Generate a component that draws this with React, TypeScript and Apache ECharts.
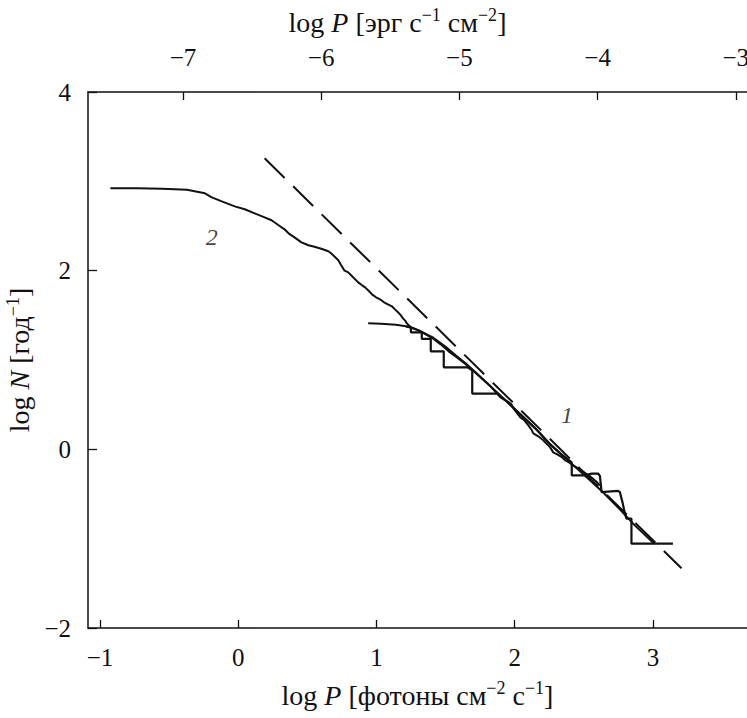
import React, { useEffect, useRef } from "react";
import * as echarts from "echarts";

// bottom axis: log P [photons cm^-2 s^-1]
const xTicks = [-1, 0, 1, 2, 3];
// top axis: log P [erg s^-1 cm^-2]
const topTicks = [-7, -6, -5, -4, -3];
const yTicks = [-2, 0, 2, 4];

// curve 2 (jagged)
const curve2X = [-0.925, -0.731, -0.551, -0.371, -0.241, -0.191, -0.119, -0.025, 0.047, 0.119, 0.191, 0.241, 0.292, 0.335, 0.364, 0.407, 0.457, 0.508, 0.551, 0.601, 0.652, 0.68, 0.724, 0.745, 0.767, 0.796, 0.817, 0.846, 0.868, 0.896, 0.918, 0.947, 0.968, 0.997, 1.026, 1.055, 1.083, 1.112, 1.134, 1.156, 1.177, 1.192, 1.206, 1.22, 1.249, 1.307, 1.357, 1.407, 1.465, 1.522, 1.58, 1.645, 1.703, 1.76, 1.825, 1.897, 1.947, 1.976, 1.991, 2.019, 2.041, 2.07, 2.099, 2.12, 2.135, 2.171, 2.207, 2.235, 2.257, 2.279, 2.308, 2.344, 2.365, 2.394, 2.423, 2.459, 2.502, 2.545, 2.588, 2.617];
const curve2Y = [2.922, 2.922, 2.916, 2.905, 2.866, 2.821, 2.776, 2.72, 2.687, 2.642, 2.597, 2.564, 2.508, 2.463, 2.418, 2.373, 2.317, 2.284, 2.267, 2.245, 2.217, 2.183, 2.116, 2.06, 2.004, 1.981, 1.948, 1.903, 1.869, 1.836, 1.813, 1.769, 1.735, 1.702, 1.679, 1.646, 1.623, 1.601, 1.567, 1.534, 1.5, 1.466, 1.444, 1.41, 1.366, 1.332, 1.287, 1.243, 1.175, 1.097, 1.03, 0.952, 0.873, 0.795, 0.705, 0.582, 0.537, 0.504, 0.459, 0.403, 0.358, 0.325, 0.269, 0.224, 0.179, 0.146, 0.101, 0.056, 0.022, -0.034, -0.056, -0.09, -0.123, -0.146, -0.179, -0.213, -0.257, -0.302, -0.358, -0.403];

// curve 1 (smooth)
const curve1X = [0.94, 1.033, 1.141, 1.213, 1.264, 1.321, 1.407, 1.501, 1.573, 1.645, 1.717, 1.825, 1.933, 2.041, 2.149, 2.257, 2.329, 2.401, 2.545, 2.639, 2.761, 2.869, 2.999, 3.013];
const curve1Y = [1.41, 1.405, 1.394, 1.377, 1.355, 1.321, 1.254, 1.147, 1.052, 0.963, 0.862, 0.705, 0.549, 0.392, 0.235, 0.056, -0.045, -0.146, -0.347, -0.481, -0.672, -0.851, -1.041, -1.056];

// curve 1 staircase (observed counts)
const stepsX = [1.213, 1.249, 1.249, 1.328, 1.328, 1.393, 1.393, 1.487, 1.487, 1.66, 1.693, 1.693, 1.876, 1.933, 2.041, 2.149, 2.257, 2.329, 2.413, 2.413, 2.509, 2.557, 2.605, 2.617, 2.629, 2.747, 2.761, 2.782, 2.797, 2.809, 2.845, 2.845, 3.145];
const stepsY = [1.377, 1.366, 1.31, 1.31, 1.237, 1.237, 1.097, 1.097, 0.918, 0.918, 0.884, 0.624, 0.624, 0.549, 0.392, 0.235, 0.056, -0.045, -0.146, -0.291, -0.291, -0.272, -0.272, -0.3, -0.478, -0.465, -0.478, -0.605, -0.716, -0.776, -0.776, -1.056, -1.056];

// dashed power law (slope -3/2)
const dashX = [0.191, 3.207];
const dashY = [3.258, -1.332];

const curveLabels = [
  { name: "2", x: -0.191, y: 2.373 },
  { name: "1", x: 2.379, y: 0.381 },
];

const FONT = "Liberation Serif";
const minus = (v: number) => String(v).replace("-", "\u2212");

const TICK_FS = 25;
const TITLE_FS = 28;

const rich = {
  n: { fontFamily: FONT, fontSize: TITLE_FS, color: "#111", lineHeight: 32 },
  i: { fontFamily: FONT, fontSize: TITLE_FS, color: "#111", fontStyle: "italic", lineHeight: 32 },
  s: { fontFamily: FONT, fontSize: 18, color: "#111", lineHeight: 18, verticalAlign: "top" },
};

export default function App() {
  const ref = useRef<HTMLDivElement>(null);
  useEffect(() => {
    if (!ref.current) return;
    const chart = echarts.init(ref.current, null, { renderer: "svg" });
    const pairs = (xs: number[], ys: number[]) => xs.map((x, i) => [x, ys[i]]);
    const lineCommon = {
      type: "line",
      showSymbol: false,
      symbol: "none",
      xAxisIndex: 0,
      yAxisIndex: 0,
      silent: true,
    };
    chart.setOption({
      animation: false,
      backgroundColor: "#fff",
      textStyle: { fontFamily: FONT },
      grid: { left: 88, top: 92, right: 0, bottom: 90, containLabel: false, outerBoundsMode: "none" },
      xAxis: [
        {
          type: "value",
          position: "bottom",
          min: -1.087,
          max: 3.681,
          axisLine: { show: true, onZero: false, lineStyle: { color: "#111", width: 1.5 } },
          axisTick: { show: true, inside: true, length: 8, customValues: xTicks, lineStyle: { color: "#111", width: 1.3 } },
          axisLabel: { customValues: xTicks, margin: 17, formatter: minus, fontFamily: FONT, fontSize: TICK_FS, color: "#111" },
          splitLine: { show: false },
          name: "{n|log }{i|P}{n| [фотоны см}{s|\u22122}{n| с}{s|\u22121}{n|]}",
          nameLocation: "middle",
          nameGap: 51,
          nameTextStyle: { rich, fontFamily: FONT },
        },
        {
          type: "value",
          position: "top",
          min: -7.687,
          max: -2.919,
          axisLine: { show: true, onZero: false, lineStyle: { color: "#111", width: 1.5 } },
          axisTick: { show: true, inside: true, length: 8, customValues: topTicks, lineStyle: { color: "#111", width: 1.3 } },
          axisLabel: { customValues: topTicks, margin: 22, formatter: minus, fontFamily: FONT, fontSize: TICK_FS, color: "#111" },
          splitLine: { show: false },
          name: "{n|log }{i|P}{n| [эрг с}{s|\u22121}{n| см}{s|\u22122}{n|]}",
          nameLocation: "middle",
          nameGap: 54,
          nameTextStyle: { rich, fontFamily: FONT, padding: [0, 40, 0, 0] },
        },
      ],
      yAxis: {
        type: "value",
        min: -2,
        max: 4,
        interval: 2,
        axisLine: { show: true, onZero: false, lineStyle: { color: "#111", width: 1.5 } },
        axisTick: { show: true, inside: true, length: 9, lineStyle: { color: "#111", width: 1.3 } },
        axisLabel: { margin: 17, formatter: minus, fontFamily: FONT, fontSize: TICK_FS, color: "#111" },
        splitLine: { show: false },
        name: "{n|log }{i|N}{n| [год}{s|\u22121}{n|]}",
        nameLocation: "middle",
        nameGap: 47,
        nameRotate: 90,
        nameTextStyle: { rich, fontFamily: FONT },
      },
      series: [
        {
          ...lineCommon,
          name: "dashed",
          data: pairs(dashX, dashY),
          lineStyle: { color: "#111", width: 2, type: [28, 12] },
        },
        {
          ...lineCommon,
          name: "curve2",
          data: pairs(curve2X, curve2Y),
          lineStyle: { color: "#111", width: 2 },
        },
        {
          ...lineCommon,
          name: "curve1",
          data: pairs(curve1X, curve1Y),
          lineStyle: { color: "#111", width: 2 },
        },
        {
          ...lineCommon,
          name: "steps",
          data: pairs(stepsX, stepsY),
          lineStyle: { color: "#111", width: 2.2 },
        },
        {
          type: "scatter",
          name: "labels",
          symbolSize: 0,
          silent: true,
          data: curveLabels.map((c) => ({ value: [c.x, c.y], name: c.name })),
          label: {
            show: true,
            position: "inside",
            formatter: (p: any) => p.name,
            fontFamily: FONT,
            fontStyle: "italic",
            fontSize: 24,
            color: "#111",
          },
        },
      ],
    });
    return () => chart.dispose();
  }, []);
  return (
    <div
      ref={ref}
      style={{ position: "absolute", left: 0, top: 0, width: 747, height: 718, background: "#fff" }}
    />
  );
}
